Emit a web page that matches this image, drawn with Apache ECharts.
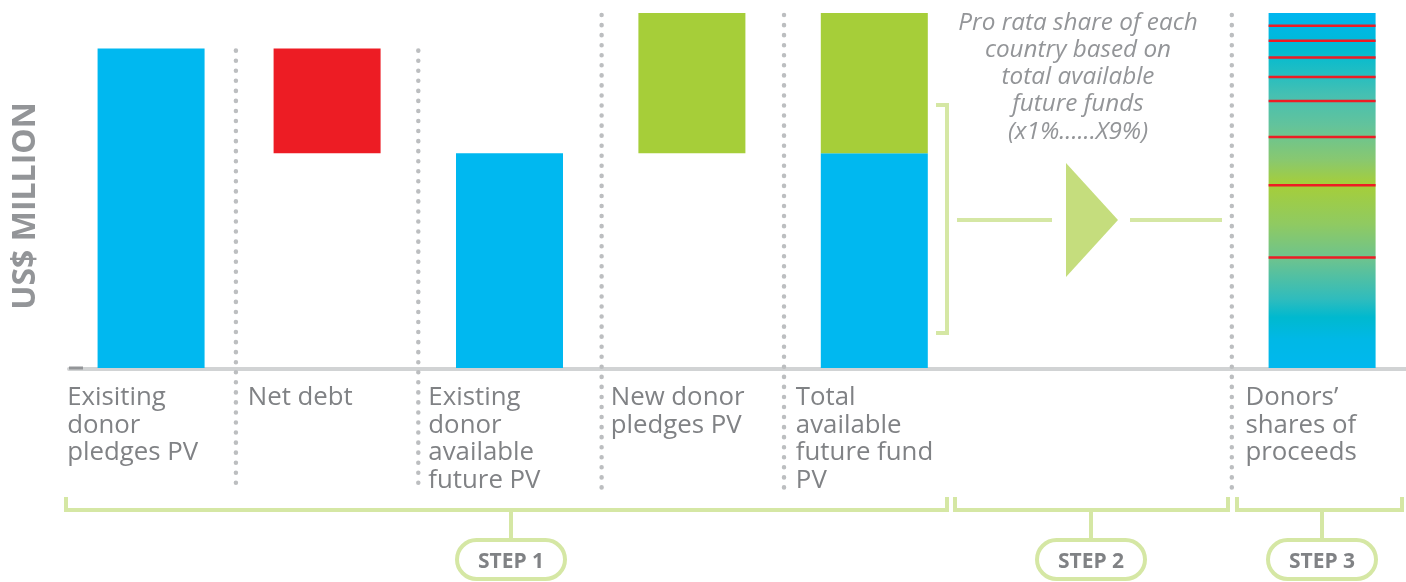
<!DOCTYPE html>
<html><head><meta charset="utf-8">
<script src="https://cdn.jsdelivr.net/npm/echarts@6/dist/echarts.min.js"></script>
<style>html,body{margin:0;padding:0;background:#fff}#c{width:1406px;height:582px}</style>
</head><body><div id="c"></div>
<script>
// ---------- data ----------
const categories = [
  "Exisiting\ndonor\npledges PV",
  "Net debt",
  "Existing\ndonor\navailable\nfuture PV",
  "New donor\npledges PV",
  "Total\navailable\nfuture fund\nPV",
  "Donors’\nshares of\nproceeds"
];
const existingPledges = 90;     // US$ million (relative)
const netDebt = 29.4;
const newDonorPledges = 39.4;
const donorSharesPct = [31.3, 20.3, 13.6, 10.1, 6.7, 5.5, 4.7, 4.2, 3.6]; // x1% ... X9%
const stepLabels = ["STEP 1", "STEP 2", "STEP 3"];
const annotationText = "Pro rata share of each\ncountry based on\ntotal available\nfuture funds\n(x1%......X9%)";
const yAxisTitle = "US$ MILLION";

// ---------- derived ----------
const available = existingPledges - netDebt;
const total = available + newDonorPledges;

// ---------- layout (x axis units = half slots) ----------
const barX = [1.07, 3, 5, 7, 9, 13.91];
const sepX = [2, 4, 6.01, 8.01, 12.92];
const labelX = [0.15, 2.13, 4.11, 6.11, 8.14, 13.07];
const BAR_W = 107;
const FONT = '"Open Sans","Noto Sans",sans-serif';
const C = {blue:'#00b8f0', red:'#ed1c24', green:'#a6ce39', text:'#808285', dots:'#bcbec0', lime:'#d5e7a4', tri:'#c5dd7d'};

const gradient = new echarts.graphic.LinearGradient(0, 0, 0, 1, [
  {offset:0, color:'#00b6f0'}, {offset:0.048, color:'#00b8e2'}, {offset:0.104, color:'#00bbd2'},
  {offset:0.16, color:'#1dbdc4'}, {offset:0.23, color:'#45c0b2'}, {offset:0.315, color:'#62c39c'},
  {offset:0.413, color:'#88c870'}, {offset:0.483, color:'#a6ce39'}, {offset:0.596, color:'#8fca62'},
  {offset:0.694, color:'#6cc38f'}, {offset:0.806, color:'#2fbcbd'}, {offset:0.857, color:'#00b9cf'},
  {offset:0.919, color:'#00b8e6'}, {offset:1, color:'#00b8ee'}
]);

const bars = [
  [barX[0], 0, existingPledges, 'blue'],
  [barX[1], available, existingPledges, 'red'],
  [barX[2], 0, available, 'blue'],
  [barX[3], available, total, 'green'],
  [barX[4], 0, available, 'blue'],
  [barX[4], available, total, 'green'],
  [barX[5], 0, total, 'grad']
];
const shareLines = [];
let cum = 0;
donorSharesPct.forEach((s, i) => { cum += s; if (i < donorSharesPct.length - 1) shareLines.push([barX[5], cum * total / 100]); });
const sepTop = [existingPledges, existingPledges, total, total, total];
const seps = sepX.map((x, i) => [x, sepTop[i]]);
const labels = labelX.map((x, i) => [x, 0]);

const chart = echarts.init(document.getElementById('c'));
const option = {
  animation: false,
  grid: {left: 69, right: 0, top: 13, bottom: 213},
  xAxis: {type:'value', min:0.17, max:14.83,
    axisLine:{show:true, onZero:false, lineStyle:{color:'#d1d3d4', width:4}},
    axisTick:{show:false}, axisLabel:{show:false}, splitLine:{show:false}},
  yAxis: {type:'value', min:0, max:100, show:true,
    axisLine:{show:false}, axisTick:{show:false}, axisLabel:{show:false}, splitLine:{show:false}},
  series: [
    {type:'custom', name:'separators', data: seps, clip:false, z:1,
     renderItem(params, api) {
       const p0 = api.coord([api.value(0), api.value(1)]);
       const base = api.coord([api.value(0), 0]);
       return {type:'line', shape:{x1:p0[0], y1:p0[1]+2, x2:p0[0], y2:base[1]+119},
         style:{stroke:C.dots, lineWidth:4.5, lineCap:'round', lineDash:[0.1, 9.95]}};
     }},
    {type:'custom', name:'bars', data: bars, clip:false, z:2,
     renderItem(params, api) {
       const x = api.value(0);
       const lo = api.value(1);
       const top = api.coord([x, api.value(2)]);
       const bot = api.coord([x, lo]);
       const kind = bars[params.dataIndex][3];
       const fill = kind === 'grad' ? gradient : C[kind];
       const h = bot[1] - top[1] - (lo === 0 ? 1 : 0);
       return {type:'rect', shape:{x: top[0]-BAR_W/2, y: top[1], width: BAR_W, height: h}, style:{fill}};
     }},
    {type:'custom', name:'shares', data: shareLines, clip:false, z:3,
     renderItem(params, api) {
       const p = api.coord([api.value(0), api.value(1)]);
       return {type:'line', shape:{x1:p[0]-BAR_W/2, y1:p[1], x2:p[0]+BAR_W/2, y2:p[1]},
         style:{stroke:C.red, lineWidth:2.5}};
     }},
    {type:'custom', name:'labels', data: labels, clip:false, z:3,
     renderItem(params, api) {
       const p = api.coord([api.value(0), api.value(1)]);
       return {type:'text', x:p[0], y:p[1]+15,
         style:{text: categories[params.dataIndex], fill:C.text, fontFamily:FONT, fontSize:25.8,
           lineHeight:27.5, align:'left', verticalAlign:'top'}};
     }}
  ],
  graphic: []
};
chart.setOption(option);

// ---------- decorations ----------
const g = [];
g.push({type:'line', z:10, shape:{x1:69, y1:368, x2:83, y2:368}, style:{stroke:'#939598', lineWidth:3}});
g.push({type:'text', x:26, y:206, rotation:Math.PI/2,
  style:{text:yAxisTitle, font:'bold 32px ' + FONT, fill:'#939598', align:'center', verticalAlign:'middle'}});
g.push({type:'text', x:1078, y:9,
  style:{text:annotationText, fontFamily:FONT, fontStyle:'italic', fontSize:24.3, lineHeight:27.3,
    fill:'#939598', align:'center', verticalAlign:'top'}});
// bracket around total bar + arrow
g.push({type:'polyline', shape:{points:[[936,105],[947,105],[947,333],[936,333]]}, style:{stroke:C.lime, lineWidth:4, fill:null}});
g.push({type:'line', shape:{x1:957, y1:220, x2:1052, y2:220}, style:{stroke:C.lime, lineWidth:4}});
g.push({type:'polygon', shape:{points:[[1066,163],[1118,220],[1066,277]]}, style:{fill:C.tri}});
g.push({type:'line', shape:{x1:1130, y1:220, x2:1222, y2:220}, style:{stroke:C.lime, lineWidth:4}});
// step brackets
const steps = [[66, 947, 511], [955, 1228, 1091], [1237, 1402, 1322]];
steps.forEach((s, i) => {
  g.push({type:'polyline', shape:{points:[[s[0],497],[s[0],510],[s[1],510],[s[1],497]]}, style:{stroke:C.lime, lineWidth:4, fill:null}});
  g.push({type:'line', shape:{x1:s[2], y1:510, x2:s[2], y2:540}, style:{stroke:C.lime, lineWidth:4}});
  g.push({type:'rect', shape:{x:s[2]-54, y:540, width:108, height:39, r:19.5}, style:{stroke:C.lime, lineWidth:4, fill:'#fff'}});
  g.push({type:'text', x:s[2], y:562, style:{text:stepLabels[i], font:'bold 21px ' + FONT, fill:C.text, align:'center', verticalAlign:'middle'}});
});
chart.setOption({graphic: g});
</script>
</body></html>
